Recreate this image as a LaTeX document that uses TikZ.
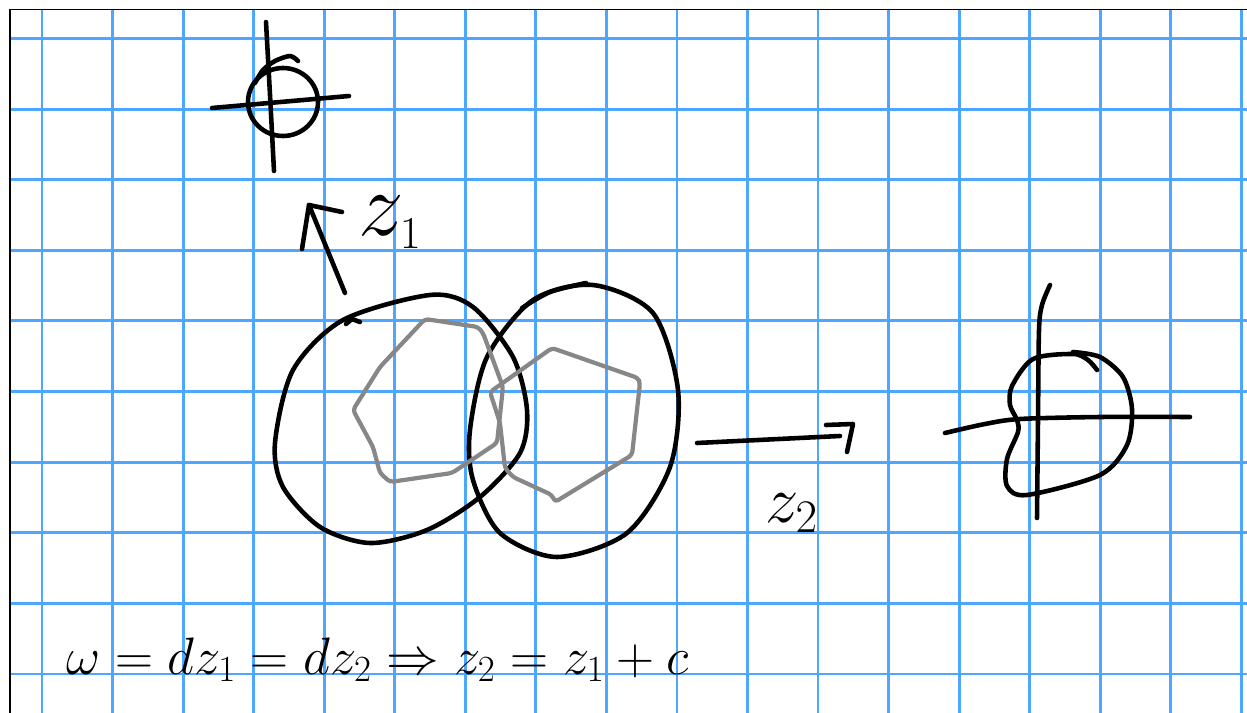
\documentclass[tikz,border=0pt]{standalone}
\usepackage{fix-cm}
\usepackage{amsmath,amssymb}
\usepackage{xcolor}
\usepackage{tikz}
\usetikzlibrary{arrows.meta,calc}
\definecolor{gridblue}{RGB}{77,166,255}
\definecolor{pencil}{RGB}{135,135,135}
\tikzset{
  gridln/.style={gridblue,line width=1.6pt},
  ink/.style   ={black,line width=2.6pt,line cap=round,line join=round},
  soft/.style  ={pencil,line width=2.4pt,line cap=round,line join=round,rounded corners=2pt},
  lab/.style   ={inner sep=0pt,anchor=base west,font=\fontsize{38}{42}\selectfont},
  eqn/.style   ={inner sep=0pt,anchor=base west,font=\fontsize{30}{34}\selectfont},
}

\begin{document}
\begin{tikzpicture}[x=0.02cm,y=-0.02cm]
  \useasboundingbox (0,0) rectangle (1247,713);
  % paper
  \foreach \i in {0,...,17} \draw[gridln] ({42+70.55*\i},9.5) -- ({42+70.55*\i},713);
  \foreach \j in {0,...,9} \draw[gridln] (10,{38.5+70.6*\j}) -- (1247,{38.5+70.6*\j});
  \draw[line width=0.6pt] (10,713) -- (10,9.5) -- (1247,9.5);

  % small chart, top left
  \draw[ink] plot[smooth] coordinates {(266,22) (270,95) (274,171)};
  \draw[ink] (212,108) -- (349,96);
  \draw[ink] (283,102) ellipse [x radius=35, y radius=34];
  \draw[ink] plot[smooth] coordinates {(255,83) (263,70) (275,61) (290,56) (298,61)};

  % arrow z_1
  \coordinate (t1) at (345,293); \coordinate (h1) at (309,205);
  \coordinate (l1) at (302,249); \coordinate (r1) at (342,212);
  \draw[ink] (t1) -- (h1);
  \draw[ink] (l1) -- (h1) -- (r1);
  \node[lab,font=\fontsize{52}{56}\selectfont] (z1) at (358,235) {$z_{\scriptscriptstyle 1}$};

  % the two discs
  \draw[ink] plot[smooth cycle] coordinates {(275,443) (293,370) (343,320) (430,295) (473,307)
    (513,357) (527,410) (520,453) (480,497) (427,530) (370,543) (320,527) (283,487)};
  \draw[ink] (346,324) -- (352,319) -- (360,322);
  \draw[ink] plot[smooth cycle] coordinates {(593,285) (653,313) (678,390) (670,467) (627,533)
    (557,557) (500,533) (473,480) (470,430) (487,357) (533,300)};
  \draw[ink] plot[smooth] coordinates {(522,308) (550,292) (586,283)};

  % polygons inside
  \draw[soft] (353,410) -- (380,367) -- (425,319) -- (478,327) -- (483,333) -- (503,387)
    -- (497,443) -- (452,473) -- (390,482) -- (380,473) -- (373,447) -- cycle;
  \draw[soft] (490,392) -- (552,348) -- (638,378) -- (640,383) -- (632,455) -- (555,502)
    -- (552,495) -- (513,477) -- (505,468) -- (500,423) -- cycle;

  % arrow z_2
  \coordinate (t2) at (697,443); \coordinate (e2) at (840,436);
  \coordinate (h2) at (853,424);
  \coordinate (u2) at (826,425); \coordinate (d2) at (847,452);
  \draw[ink] (t2) -- (e2);
  \draw[ink] (u2) -- (h2) -- (d2);
  \node[lab] (z2) at (765,522) {$z_2$};

  % chart, right
  \draw[ink] plot[smooth] coordinates {(1050,285) (1042,305) (1039,330) (1038,420) (1037,518)};
  \draw[ink] plot[smooth] coordinates {(945,433) (985,424) (1020,419) (1100,417) (1190,417)};
  \draw[ink] plot[smooth] coordinates {(1097,370) (1088,360) (1073,354) (1033,359) (1012,386)
    (1010,405) (1017,420) (1018,432) (1007,459) (1007,486) (1027,495) (1100,475) (1127,445)
    (1132,409) (1123,377) (1100,357) (1073,352)};

  % relation
  \node[eqn] (eq) at (66,674) {$\omega=dz_1=dz_2\Rightarrow z_2=z_1+c$};
\end{tikzpicture}
\end{document}
